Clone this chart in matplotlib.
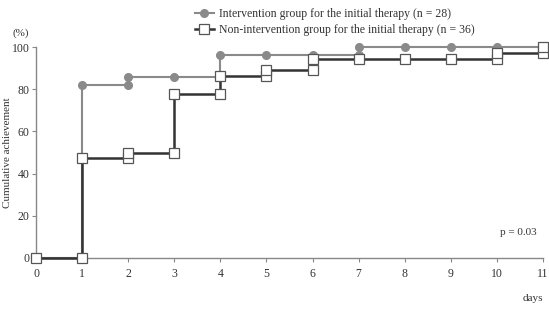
import numpy as np
import matplotlib
matplotlib.use('Agg')
import matplotlib.pyplot as plt

plt.rcParams['font.family'] = ['Liberation Serif', 'DejaVu Serif']

## the data
# intervention group (n = 28), step points
int_days = [0, 1, 1, 2, 2, 3, 4, 4, 5, 6, 7, 7, 8, 9, 10, 11]
int_vals = [0, 0, 82.1, 82.1, 85.7, 85.7, 85.7, 96.4, 96.4, 96.4, 96.4, 100, 100, 100, 100, 100]

# non-intervention group (n = 36), step points
non_days = [0, 1, 1, 2, 2, 3, 3, 4, 4, 5, 5, 6, 6, 7, 8, 9, 10, 10, 11, 11]
non_vals = [0, 0, 47.2, 47.2, 50.0, 50.0, 77.8, 77.8, 86.1, 86.1, 88.9, 88.9,
            94.4, 94.4, 94.4, 94.4, 94.4, 97.2, 97.2, 100]

xticks = list(range(0, 12))
yticks = [0, 20, 40, 60, 80, 100]

gray = '#8a8a8a'
dark = '#333333'
axcol = '#888888'

fig = plt.figure(figsize=(5.49, 3.21), dpi=100)
ax = fig.add_axes([36/549., 63/321., 507/549., 211/321.])

l1, = ax.plot(int_days, int_vals, color=gray, lw=1.5, marker='o', ms=5.5,
              mfc=gray, mec=gray, clip_on=False, zorder=3,
              label='Intervention group for the initial therapy (n = 28)')
l2, = ax.plot(non_days, non_vals, color=dark, lw=1.8, marker='s', ms=7,
              mfc='white', mec='#555555', mew=0.9, clip_on=False, zorder=4,
              label='Non-intervention group for the initial therapy (n = 36)')

ax.set_xlim(0, 11)
ax.set_ylim(0, 100)
ax.set_xticks(xticks)
ax.set_yticks(yticks)
ax.spines['top'].set_visible(False)
ax.spines['right'].set_visible(False)
for s in ['left', 'bottom']:
    ax.spines[s].set_color(axcol)
    ax.spines[s].set_linewidth(1.0)
ax.tick_params(direction='out', length=3, width=0.8, color=axcol,
               labelsize=8.5, labelcolor='#333333')
ax.tick_params(axis='y', pad=1.5)
ax.tick_params(axis='x', pad=4)

ax.set_ylabel('Cumulative achievement', fontsize=8, color='#333333')
ax.yaxis.set_label_coords(-0.047, 0.5)
ax.text(-0.03, 1.045, '(%)', transform=ax.transAxes, fontsize=8, color='#333333',
        ha='center', va='bottom')
ax.text(1.0, -0.17, 'days', transform=ax.transAxes, fontsize=8, color='#333333',
        ha='right', va='top')
ax.text(0.988, 0.1, 'p = 0.03', transform=ax.transAxes, fontsize=8, color='#333333',
        ha='right', va='bottom')

fig.legend(handles=[l1, l2], loc='upper left', bbox_to_anchor=(184/549., 1.007),
           frameon=False, fontsize=8.5, handlelength=1.6, handletextpad=0.5,
           labelspacing=0.3, labelcolor='#333333')

fig.savefig('out.png', dpi=100)
